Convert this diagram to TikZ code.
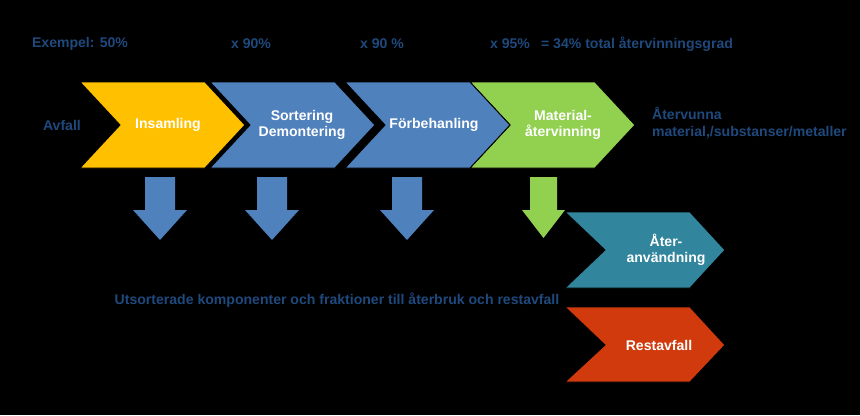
\documentclass[tikz,border=0pt]{standalone}
\usepackage{fontspec}
\setmainfont{Liberation Sans}
\begin{document}
\begin{tikzpicture}[x=0.03cm,y=-0.03cm,
  lbl/.style={font=\bfseries\fontsize{12}{14}\selectfont,text=white,align=center},
  dtxt/.style={font=\bfseries\fontsize{12}{14}\selectfont,text=txtblue},
  chev/.style={draw=black,line width=0.8pt}]
\definecolor{txtblue}{HTML}{1F497D}
\definecolor{cyel}{HTML}{FFC000}
\definecolor{cblue}{HTML}{4F81BD}
\definecolor{cgreen}{HTML}{92D050}
\definecolor{cteal}{HTML}{31859C}
\definecolor{cred}{HTML}{D03A0C}
\fill[black] (0,0) rectangle (860,415);
\useasboundingbox (0,0) rectangle (860,415);
% chevrons
\filldraw[chev,fill=cgreen] (470,82)--(595,82)--(635,125)--(595,168)--(470,168)--(510,125)--cycle;
\filldraw[chev,fill=cblue] (345,82)--(470,82)--(510,125)--(470,168)--(345,168)--(385,125)--cycle;
\filldraw[chev,fill=cblue] (210,82)--(335,82)--(375,125)--(335,168)--(210,168)--(250,125)--cycle;
\filldraw[chev,fill=cyel] (80,82)--(205,82)--(245,125)--(205,168)--(80,168)--(120,125)--cycle;
\filldraw[chev,fill=cteal] (565,212)--(690,212)--(725,250)--(690,288)--(565,288)--(605,250)--cycle;
\filldraw[chev,fill=cred] (565,307)--(690,307)--(725,345)--(690,382)--(565,382)--(605,345)--cycle;
\node[lbl] (ins) at (168,125) {Insamling};
\node[lbl] (sor) at (302,125) {Sortering\\Demontering};
\node[lbl] (fb) at (434,125) {Förbehanling};
\node[lbl] (mat) at (563,125) {Material-\\återvinning};
\node[lbl] (ate) at (666,250) {Åter-\\användning};
\node[lbl] (rest) at (659,345) {Restavfall};
% down arrows
\foreach \c/\n in {160/a1,272/a2,407/a3}{
  \fill[cblue] (\c-15,177)--(\c+15,177)--(\c+15,210)--(\c+27,210)--(\c,240)--(\c-27,210)--(\c-15,210)--cycle;}
\fill[cgreen] (530,177)--(557,177)--(557,210)--(565,210)--(543.5,238)--(522,210)--(530,210)--cycle;
% texts
\node[dtxt] (ex) at (80,44) {Exempel: 50\%};
\node[dtxt] (x1) at (251,44) {x 90\%};
\node[dtxt] (x2) at (382,44) {x 90 \%};
\node[dtxt] (x3) at (510,44) {x 95\%};
\node[dtxt,anchor=west] (tot) at (537,44) {= 34\% total återvinningsgrad};
\node[dtxt] (avf) at (62,125) {Avfall};
\node[dtxt,anchor=west,align=left] (atv) at (648,123) {Återvunna\\material,/substanser/metaller};
\node[dtxt] (uts) at (337,300) {Utsorterade komponenter och fraktioner till återbruk och restavfall};
\end{tikzpicture}
\end{document}
